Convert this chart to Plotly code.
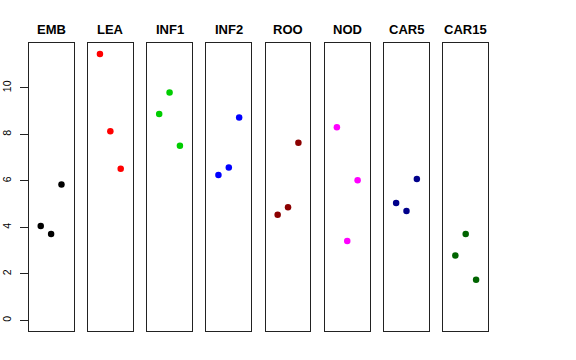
import plotly.graph_objects as go

groups = ["EMB", "LEA", "INF1", "INF2", "ROO", "NOD", "CAR5", "CAR15"]
colors = ["#000000", "#FF0000", "#00CD00", "#0000FF", "#8B0000", "#FF00FF", "#00008B", "#006400"]
positions = [1, 2, 3]
emb = [4.06, 3.71, 5.84]
lea = [11.46, 8.13, 6.52]
inf1 = [8.88, 9.80, 7.51]
inf2 = [6.25, 6.57, 8.73]
roo = [4.54, 4.87, 7.64]
nod = [8.31, 3.41, 6.03]
car5 = [5.05, 4.70, 6.08]
car15 = [2.79, 3.71, 1.75]
values = [emb, lea, inf1, inf2, roo, nod, car5, car15]
y_ticks = [0, 2, 4, 6, 8, 10]

W, H = 576, 360
fig = go.Figure()

ymax = max(max(v) for v in values)
yr = [0 - 0.04 * ymax, ymax * 1.04]
xr = [0 - 0.16, 4 + 0.16]

left0 = 28.7
step = 59.23
pw = 44.8
ybot = (H - 331) / H
ytop = (H - 43.3) / H

for i, (g, c, v) in enumerate(zip(groups, colors, values)):
    n = "" if i == 0 else str(i + 1)
    x0 = (left0 + step * i) / W
    x1 = (left0 + step * i + pw) / W
    fig.add_trace(go.Scatter(
        x=positions, y=v, mode="markers",
        marker=dict(color=c, size=6.5, line=dict(width=0)),
        xaxis="x" + n, yaxis="y" + n, showlegend=False, hoverinfo="skip"))
    fig.layout["xaxis" + n] = dict(
        domain=[x0, x1], range=xr, showgrid=False, zeroline=False,
        showticklabels=False, ticks="", showline=True, mirror=True,
        linecolor="#222", linewidth=1, anchor="y" + n, automargin=False)
    yax = dict(
        domain=[ybot, ytop], range=yr, showgrid=False, zeroline=False,
        showline=True, mirror=True, linecolor="#222", linewidth=1,
        anchor="x" + n, automargin=False)
    if i == 0:
        yax.update(ticks="outside", ticklen=8, tickcolor="#222",
                   tickvals=y_ticks, ticktext=[str(t) for t in y_ticks],
                   tickangle=-90,
                   tickfont=dict(family="Liberation Sans, Arial", size=10.5, color="#000"),
                   ticklabelstandoff=5)
    else:
        yax.update(showticklabels=False, ticks="")
    fig.layout["yaxis" + n] = yax
    fig.add_annotation(
        text="<b>" + g + "</b>", x=(x0 + x1) / 2, y=(H - 29.5) / H,
        xref="paper", yref="paper", showarrow=False,
        xanchor="center", yanchor="middle",
        font=dict(family="Liberation Sans, Arial", size=13, color="#000"))

fig.update_layout(
    width=W, height=H, margin=dict(l=0, r=0, t=0, b=0, autoexpand=False),
    paper_bgcolor="white", plot_bgcolor="white")

fig.write_html("out.html", config={"displayModeBar": False, "staticPlot": True},
               post_script="document.body.style.margin='0';document.body.style.padding='0';")
